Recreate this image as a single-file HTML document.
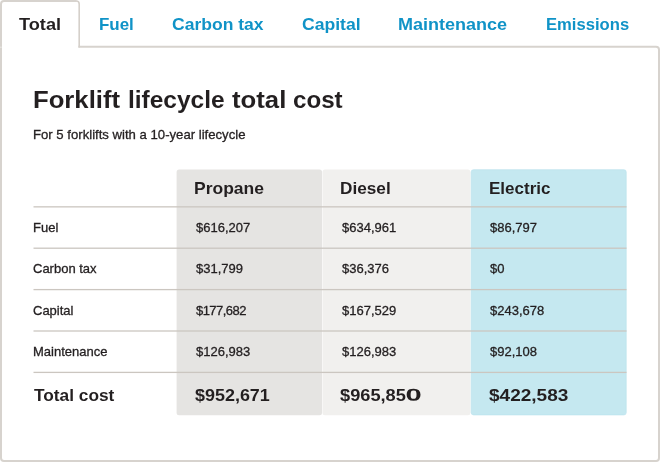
<!DOCTYPE html>
<html lang="en">
<head>
<meta charset="utf-8">
<title>Forklift lifecycle total cost</title>
<style>
html,body{margin:0;padding:0;background:#fff;}
body{width:660px;height:462px;position:relative;overflow:hidden;font-family:"Liberation Sans",Arial,sans-serif;color:#231f20;}
svg.bg{position:absolute;left:0;top:0;}
.t{position:absolute;white-space:nowrap;font-size:13px;line-height:16px;transform-origin:0 0;}
.r{-webkit-text-stroke:0.3px currentColor;}
.b{font-weight:bold;font-size:17px;line-height:20px;}
.h{font-weight:bold;font-size:23px;line-height:28px;}
h1{margin:0;font-size:0;line-height:0;}
.k{color:#1093c7;}
.z{display:inline-block;transform:scaleX(1.6);transform-origin:0 50%;margin-left:-0.4px;}
</style>
</head>
<body>
<svg class="bg" width="660" height="462" viewBox="0 0 660 462" aria-hidden="true">
<rect x="1" y="46.8" width="658" height="414.2" rx="3" ry="3" fill="#fff" stroke="#d7d3ce" stroke-width="2"/>
<rect x="2" y="44" width="76.4" height="6" fill="#fff"/>
<path d="M1 52 V4 A3 3 0 0 1 4 1 H76.4" fill="none" stroke="#d7d3ce" stroke-width="2"/>
<path d="M76 1 H76.2 A3 3 0 0 1 79.2 4 V47.6" fill="none" stroke="#d5d0ca" stroke-width="1.6"/>
<rect x="0" y="46.7" width="1.8" height="1" fill="#eae8e5"/>
<rect x="176.6" y="169.4" width="145.4" height="245.8" rx="2.5" fill="#e5e4e2"/>
<rect x="322.5" y="169.4" width="147.9" height="245.8" rx="2.5" fill="#f1f0ee"/>
<rect x="471.2" y="169.7" width="155" height="245.2" rx="2.3" fill="#c5e8f0" stroke="#bbe3ee" stroke-width="0.7"/>
<g fill="#cbc6c0">
<rect x="33.5" y="206.2" width="593" height="1.3"/>
<rect x="33.5" y="247.55" width="593" height="1.3"/>
<rect x="33.5" y="288.95" width="593" height="1.3"/>
<rect x="33.5" y="330.35" width="593" height="1.3"/>
<rect x="33.5" y="371.75" width="593" height="1.3"/>
</g>
</svg>
<div class="t b" style="left:19.39px;top:15px;transform:translateY(0.40px) rotate(0.02deg) scaleX(1.0692)">Total</div>
<div class="t b k" style="left:99.18px;top:15px;transform:translateY(0.40px) rotate(0.02deg) scaleX(0.9968)">Fuel</div>
<div class="t b k" style="left:172.10px;top:15px;transform:translateY(0.40px) rotate(0.02deg) scaleX(1.0317)">Carbon tax</div>
<div class="t b k" style="left:302.10px;top:15px;transform:translateY(0.40px) rotate(0.02deg) scaleX(1.0338)">Capital</div>
<div class="t b k" style="left:398.49px;top:15px;transform:translateY(0.40px) rotate(0.02deg) scaleX(1.0582)">Maintenance</div>
<div class="t b k" style="left:545.72px;top:15px;transform:translateY(0.40px) rotate(0.02deg) scaleX(0.9779)">Emissions</div>
<h1><span class="t h" style="left:32.93px;top:86px;transform:scaleX(1.1161)">Forklift</span>
<span class="t h" style="left:127.85px;top:86px;transform:scaleX(1.0643)">lifecycle</span>
<span class="t h" style="left:232.14px;top:86px;transform:scaleX(1.1184)">total</span>
<span class="t h" style="left:292.77px;top:86px;transform:scaleX(1.0498)">cost</span></h1>
<div class="t r" style="left:33.10px;top:126px;transform:translateY(0.50px) rotate(0.02deg) scaleX(1.0106)">For 5 forklifts with a 10-year lifecycle</div>
<div class="t b" style="left:194.19px;top:179px;transform:translateY(0.30px) rotate(0.02deg) scaleX(1.0286)">Propane</div>
<div class="t b" style="left:339.94px;top:179px;transform:translateY(0.30px) rotate(0.02deg) scaleX(1.0115)">Diesel</div>
<div class="t b" style="left:489.17px;top:179px;transform:translateY(0.30px) rotate(0.02deg)">Electric</div>
<div class="t b" style="left:34.18px;top:385px;transform:translateY(0.60px) rotate(0.02deg) scaleX(1.0172)">Total cost</div>
<div class="t b" style="left:194.57px;top:385px;transform:translateY(0.60px) rotate(0.02deg) scaleX(1.0551)">$952,671</div>
<div class="t b" style="left:339.98px;top:385px;transform:translateY(0.60px) rotate(0.02deg) scaleX(1.0725)">$965,85<span class="z">0</span></div>
<div class="t b" style="left:488.89px;top:385px;transform:translateY(0.60px) rotate(0.02deg) scaleX(1.1185)">$422,583</div>
<div class="t r" style="left:33.0px;top:219px;transform:translateY(0.90px) rotate(0.02deg)">Fuel</div>
<div class="t r" style="left:195.5px;top:219px;transform:translateY(0.90px) rotate(0.02deg)">$616,207</div>
<div class="t r" style="left:341.5px;top:219px;transform:translateY(0.90px) rotate(0.02deg)">$634,961</div>
<div class="t r" style="left:489.6px;top:219px;transform:translateY(0.90px) rotate(0.02deg)">$86,797</div>
<div class="t r" style="left:33.0px;top:261px;transform:translateY(0.30px) rotate(0.02deg)">Carbon tax</div>
<div class="t r" style="left:195.5px;top:261px;transform:translateY(0.30px) rotate(0.02deg)">$31,799</div>
<div class="t r" style="left:341.5px;top:261px;transform:translateY(0.30px) rotate(0.02deg)">$36,376</div>
<div class="t r" style="left:489.6px;top:261px;transform:translateY(0.30px) rotate(0.02deg)">$0</div>
<div class="t r" style="left:33.0px;top:302px;transform:translateY(0.70px) rotate(0.02deg)">Capital</div>
<div class="t r" style="left:195.5px;top:302px;transform:translateY(0.70px) rotate(0.02deg);letter-spacing:-0.55px">$177,682</div>
<div class="t r" style="left:341.5px;top:302px;transform:translateY(0.70px) rotate(0.02deg)">$167,529</div>
<div class="t r" style="left:489.6px;top:302px;transform:translateY(0.70px) rotate(0.02deg)">$243,678</div>
<div class="t r" style="left:33.0px;top:344px;transform:translateY(0.40px) rotate(0.02deg)">Maintenance</div>
<div class="t r" style="left:195.5px;top:344px;transform:translateY(0.40px) rotate(0.02deg)">$126,983</div>
<div class="t r" style="left:341.5px;top:344px;transform:translateY(0.40px) rotate(0.02deg)">$126,983</div>
<div class="t r" style="left:489.6px;top:344px;transform:translateY(0.40px) rotate(0.02deg)">$92,108</div>
</body>
</html>
